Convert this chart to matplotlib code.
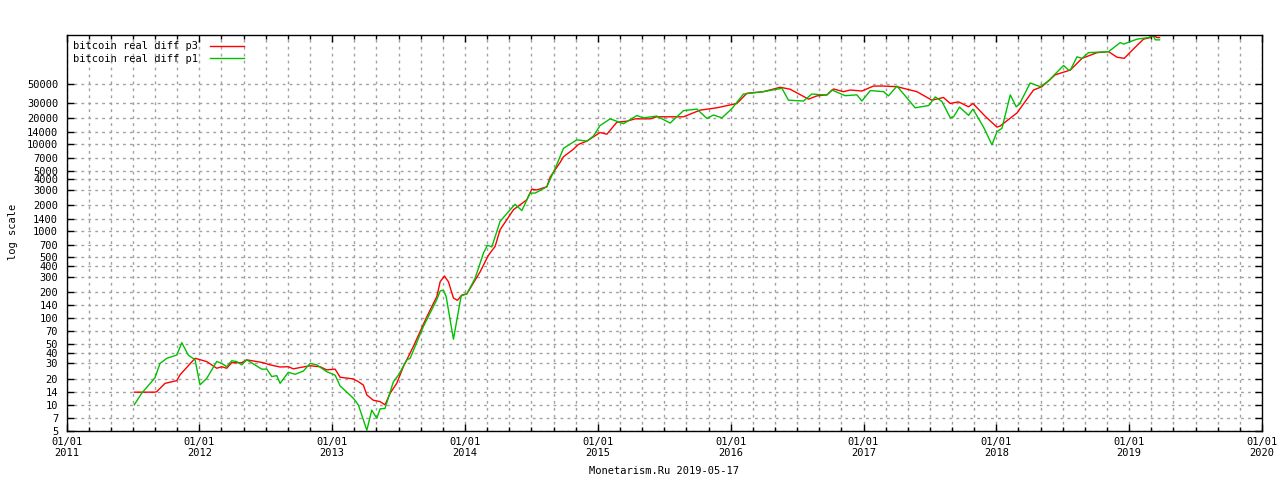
import numpy as np
import matplotlib
matplotlib.use("Agg")
import matplotlib.pyplot as plt
from matplotlib.ticker import FixedLocator, FixedFormatter, NullLocator

# dates as fractional years, values as difficulty (log scale)
p3_years = [2011.510, 2011.666, 2011.679, 2011.742, 2011.830, 2011.855, 2011.968,
            2012.056, 2012.131, 2012.169, 2012.206, 2012.244, 2012.319, 2012.357,
            2012.482, 2012.532, 2012.608, 2012.670, 2012.708, 2012.758, 2012.834,
            2012.909, 2012.959, 2013.022, 2013.060, 2013.160, 2013.197, 2013.235,
            2013.261, 2013.310, 2013.361, 2013.398, 2013.436, 2013.486, 2013.536,
            2013.611, 2013.712, 2013.788, 2013.813, 2013.845, 2013.875, 2013.913,
            2013.943, 2013.976, 2014.014, 2014.114, 2014.176, 2014.227, 2014.264,
            2014.365, 2014.465, 2014.503, 2014.541, 2014.616, 2014.641, 2014.716,
            2014.741, 2014.816, 2014.854, 2014.917, 2015.017, 2015.068, 2015.143,
            2015.218, 2015.281, 2015.394, 2015.444, 2015.645, 2015.770, 2015.896,
            2016.047, 2016.122, 2016.247, 2016.373, 2016.448, 2016.586, 2016.649,
            2016.724, 2016.774, 2016.849, 2016.900, 2016.988, 2017.075, 2017.151,
            2017.252, 2017.402, 2017.515, 2017.602, 2017.653, 2017.715, 2017.791,
            2017.824, 2017.916, 2018.005, 2018.029, 2018.155, 2018.280, 2018.343,
            2018.444, 2018.557, 2018.645, 2018.758, 2018.845, 2018.908, 2018.963,
            2019.033, 2019.108, 2019.159, 2019.184, 2019.209, 2019.229]
p3_values = [14, 14, 14.2, 17.7, 19, 22.2, 34.4,
             31.5, 26.4, 27.5, 26.4, 30.6, 30.6, 33,
             30.6, 28.9, 27.3, 27.5, 26, 26.9, 28.2,
             27.5, 25.3, 25.8, 20.8, 19.9, 18.5, 16.9,
             13.0, 11.3, 10.9, 10, 13.6, 17.7, 27.5,
             47, 103, 177, 262, 305, 262, 170,
             160, 184, 190, 341, 527, 670, 1040,
             1770, 2300, 3050, 2990, 3250, 4200, 6200,
             7200, 8800, 10000, 10900, 13700, 13100, 18000,
             18500, 19700, 19700, 20800, 20800, 24800, 26400,
             29600, 38800, 40500, 45500, 43200, 33200, 36200,
             37200, 43500, 40500, 42300, 41200, 47000, 47000,
             46200, 40500, 32300, 34700, 29600, 30900, 27100,
             29600, 21100, 15800, 16300, 23000, 42300, 46200,
             63400, 71800, 98000, 114000, 117000, 101000, 98000,
             126000, 163000, 170000, 180000, 170000, 170000]

p1_years = [2011.510, 2011.566, 2011.666, 2011.704, 2011.755, 2011.830, 2011.868,
            2011.917, 2011.968, 2012.005, 2012.056, 2012.131, 2012.169, 2012.206,
            2012.244, 2012.282, 2012.319, 2012.357, 2012.470, 2012.508, 2012.545,
            2012.583, 2012.608, 2012.670, 2012.721, 2012.783, 2012.834, 2012.884,
            2012.959, 2013.022, 2013.060, 2013.160, 2013.197, 2013.235, 2013.261,
            2013.298, 2013.336, 2013.361, 2013.398, 2013.461, 2013.499, 2013.562,
            2013.587, 2013.624, 2013.687, 2013.788, 2013.813, 2013.837, 2013.858,
            2013.913, 2013.971, 2014.014, 2014.076, 2014.139, 2014.169, 2014.202,
            2014.264, 2014.340, 2014.377, 2014.428, 2014.490, 2014.528, 2014.616,
            2014.691, 2014.741, 2014.842, 2014.917, 2014.967, 2015.017, 2015.093,
            2015.193, 2015.294, 2015.343, 2015.444, 2015.544, 2015.645, 2015.746,
            2015.821, 2015.871, 2015.934, 2016.009, 2016.096, 2016.247, 2016.386,
            2016.435, 2016.548, 2016.611, 2016.724, 2016.762, 2016.862, 2016.950,
            2016.988, 2017.051, 2017.151, 2017.188, 2017.252, 2017.389, 2017.465,
            2017.490, 2017.540, 2017.590, 2017.653, 2017.678, 2017.723, 2017.791,
            2017.824, 2017.904, 2017.967, 2018.005, 2018.042, 2018.105, 2018.150,
            2018.175, 2018.255, 2018.331, 2018.393, 2018.444, 2018.506, 2018.544,
            2018.557, 2018.607, 2018.645, 2018.694, 2018.845, 2018.933, 2018.958,
            2019.059, 2019.146, 2019.179, 2019.197, 2019.229]
p1_values = [10, 13.6, 20.5, 30, 34.4, 37.5, 52,
             37.4, 33, 17, 20.2, 31.6, 30, 27.5,
             32.2, 31.5, 28.9, 33, 25.8, 25.8, 21.2,
             21.7, 17.7, 23.7, 22.5, 24.5, 30, 28.9,
             24.1, 22, 16.5, 11.9, 10, 6.7, 5.1,
             8.7, 7, 9, 9.1, 18.5, 22, 33,
             34.4, 47, 80, 163, 205, 210, 177,
             57, 180, 190, 287, 560, 690, 660,
             1295, 1770, 2040, 1730, 2750, 2750, 3250,
             5850, 9000, 11300, 10900, 12500, 16500, 19700,
             17300, 21500, 20200, 21200, 17600, 24500, 25500,
             19900, 21800, 20200, 25800, 38000, 40500, 44300,
             32300, 31600, 38000, 37000, 42300, 36400, 37200,
             31600, 41700, 40500, 36200, 47000, 26400, 27600,
             28000, 35200, 31300, 20300, 20800, 26900, 21600,
             25500, 15800, 9900, 14000, 15300, 37200, 27100,
             29300, 51000, 46200, 53800, 65000, 81000, 71800,
             71800, 102000, 98000, 114000, 117000, 149000, 143000,
             163000, 170000, 180000, 160000, 160000]

y_ticks = [5, 7, 10, 14, 20, 30, 40, 50, 70, 100, 140, 200, 300, 400, 500, 700,
           1000, 1400, 2000, 3000, 4000, 5000, 7000, 10000, 14000, 20000, 30000, 50000]
x_years = list(range(2011, 2021))

FONT = "DejaVu Sans Mono"
plt.rcParams["font.family"] = FONT
plt.rcParams["font.size"] = 7.5

fig = plt.figure(figsize=(12.8, 4.8), dpi=100)
ax = fig.add_axes([66.5 / 1280, 49 / 480, (1262 - 66.5) / 1280, (431 - 35) / 480])

ax.plot(p3_years, p3_values, color="#ff0000", lw=1.0, label="bitcoin real diff p3")
ax.plot(p1_years, p1_values, color="#00c000", lw=1.0, label="bitcoin real diff p1")

ax.set_yscale("log")
ax.set_xlim(2011, 2020)
ax.set_ylim(5, 182000)

ax.yaxis.set_major_locator(FixedLocator(y_ticks))
ax.yaxis.set_major_formatter(FixedFormatter([str(v) for v in y_ticks]))
ax.yaxis.set_minor_locator(NullLocator())
ax.xaxis.set_major_locator(FixedLocator(x_years))
ax.xaxis.set_major_formatter(FixedFormatter([f"01/01\n{y}" for y in x_years]))
ax.xaxis.set_minor_locator(FixedLocator(np.arange(2011, 2020.01, 1 / 6)))

ax.tick_params(which="both", direction="in", top=True, right=True, colors="black",
               labelsize=7.5, width=1)
ax.tick_params(which="major", length=5, pad=6)
ax.tick_params(which="minor", length=3)
ax.tick_params(axis="x", which="major", pad=4)

grid_kw = dict(color="#a0a0a0", linestyle=(0, (2, 3)), linewidth=1.0)
ax.grid(True, which="major", axis="both", **grid_kw)
ax.grid(True, which="minor", axis="x", **grid_kw)
ax.set_axisbelow(True)
for s in ax.spines.values():
    s.set_linewidth(1.0)

# y label sits near the left edge, like gnuplot
fig.text(13 / 1280, 1 - 232 / 480, "log scale", rotation=90, ha="center", va="center",
         fontsize=7.5)
ax.set_xlabel("Monetarism.Ru 2019-05-17", fontsize=7.5, labelpad=6)

ax.legend(loc="upper left", frameon=False, markerfirst=False, handlelength=3.2,
          handletextpad=1.2, labelspacing=0.25, borderaxespad=0.2, fontsize=7.5)

fig.savefig("out.png", dpi=100)
